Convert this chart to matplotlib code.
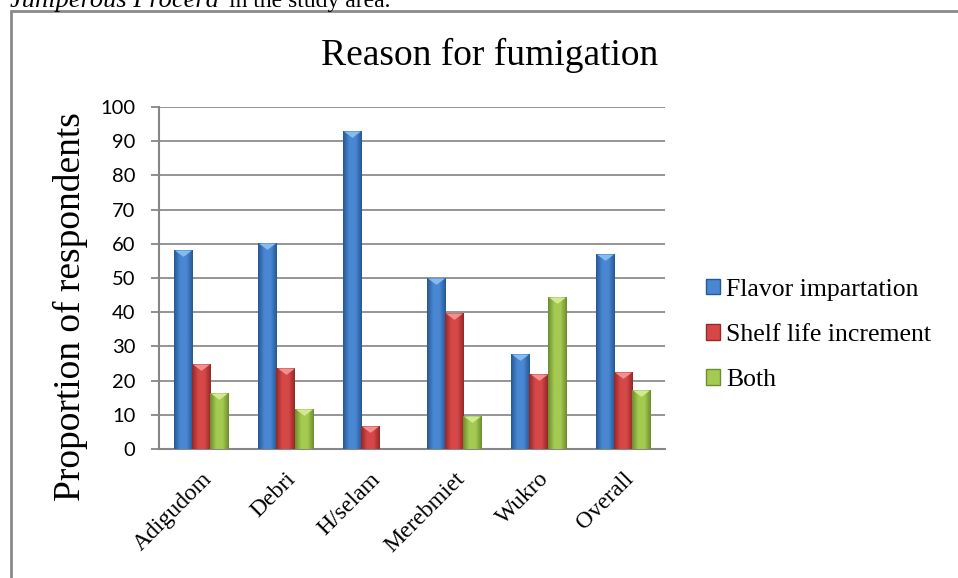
import numpy as np
import matplotlib.pyplot as plt
from matplotlib.patches import Rectangle, Patch
from matplotlib.colors import LinearSegmentedColormap
from matplotlib.path import Path

# Data
sites = ['Adigudom', 'Debri', 'H/selam', 'Merebmiet', 'Wukro', 'Overall']
flavor = [58.3, 60.1, 92.9, 50.0, 27.7, 56.9]
shelf_life = [24.9, 23.7, 6.6, 39.9, 22.0, 22.5]
both = [16.4, 11.7, 0.0, 9.7, 44.4, 17.3]
series_names = ['Flavor impartation', 'Shelf life increment', 'Both']

serif = ['Liberation Serif', 'DejaVu Serif']
sans = ['Lato', 'DejaVu Sans']

# (dark edge, light centre, bevel) for the bar look
shades = [('#255896', '#4a87d2', '#86bbf0'),
          ('#962828', '#d64848', '#f09090'),
          ('#6c8e2e', '#a4ca52', '#d2ea8e')]

# downward triangle with its top edge on the data point
bevel = Path([(-1, 0), (1, 0), (0, -0.75), (-1, 0)])

fig = plt.figure(figsize=(9.58, 5.78), dpi=100)
ax = fig.add_axes([159 / 958, 129 / 578, 506 / 958, 342 / 578])

# page text clipped at the top of the image
fig.text(10 / 958, 1 - 7 / 578, 'Juniperous Procera', family=serif, fontsize=19,
         style='italic', va='baseline', ha='left')
fig.text(229 / 958, 1 - 7 / 578, 'in the study area.', family=serif, fontsize=17,
         va='baseline', ha='left')

# chart border (right and bottom run off the image)
fig.patches.append(Rectangle((11 / 958, -0.2), 1.2, 1.2 - 11 / 578, transform=fig.transFigure,
                             fill=False, edgecolor='#8a8a8a', linewidth=2, clip_on=False))

x = np.arange(len(sites))
w = 0.215

for i, (vals, (dark, light, top)) in enumerate(zip([flavor, shelf_life, both], shades)):
    xpos = x + (i - 1) * w
    bars = ax.bar(xpos, vals, width=w, color=light, edgecolor='none', zorder=3)
    cmap = LinearSegmentedColormap.from_list('g', [dark, light, light, dark])
    grad = np.linspace(0, 1, 64).reshape(1, -1)
    for b in bars:
        if b.get_height() <= 0:
            continue
        x0, y0 = b.get_x(), b.get_y()
        im = ax.imshow(grad, cmap=cmap, aspect='auto', zorder=3.5,
                       extent=[x0, x0 + b.get_width(), y0, y0 + b.get_height()])
        im.set_clip_path(b)
    vals = np.array(vals)
    keep = vals > 3
    ax.scatter(xpos[keep], vals[keep], marker=bevel, s=150, color=top,
               linewidths=0, zorder=4)

ax.set_xlim(-0.5, len(sites) - 0.5)
ax.set_ylim(0, 100)

ax.set_yticks(range(0, 101, 10))
ax.yaxis.grid(True, color='#8c8c8c', linewidth=1.3, zorder=0)
ax.set_axisbelow(True)
for s in ['top', 'right']:
    ax.spines[s].set_visible(False)
for s in ['left', 'bottom']:
    ax.spines[s].set_color('#868686')
    ax.spines[s].set_linewidth(1.5)
ax.tick_params(axis='y', length=6, width=1.3, color='#868686', pad=11)
ax.tick_params(axis='x', length=0, pad=14)
for lab in ax.get_yticklabels():
    lab.set_family(sans)
    lab.set_fontsize(14.5)

ax.set_xticks(x)
ax.set_xticklabels(sites, rotation=45, ha='right', rotation_mode='anchor',
                   family=serif, fontsize=17)

fig.text(70 / 958, 1 - 307 / 578, 'Proportion of respondents', family=serif, fontsize=27,
         rotation=90, ha='center', va='center')
fig.text(490 / 958, 1 - 55 / 578, 'Reason for fumigation', family=serif, fontsize=27,
         ha='center', va='center')

handles = [Patch(facecolor=light, edgecolor=dark) for dark, light, _ in shades]
fig.legend(handles, series_names, loc='upper left', bbox_to_anchor=(693 / 958, 1 - 266 / 578),
           frameon=False, prop={'family': serif, 'size': 18.5}, handlelength=0.55,
           handleheight=0.55, handletextpad=0.25, labelspacing=0.9, borderpad=0)

fig.savefig('out.png', dpi=100)
